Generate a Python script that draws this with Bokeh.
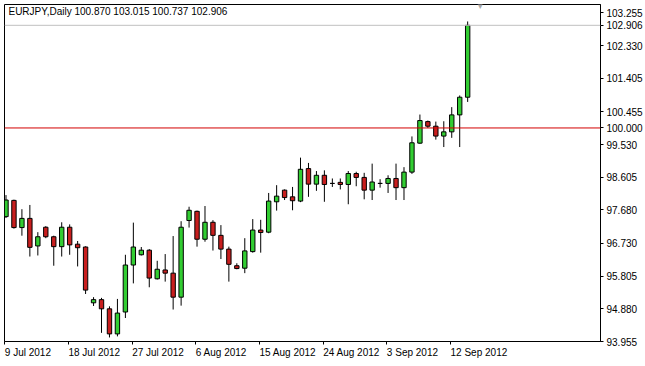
from bokeh.plotting import figure
from bokeh.models import (FixedTicker, LinearAxis, Range1d, Label, Span,
                          ColumnDataSource, PrintfTickFormatter)
from bokeh.embed import file_html
from bokeh.resources import INLINE

symbol_title = "EURJPY,Daily"

opens = [97.49, 97.95, 97.18, 97.44, 96.66, 97.19, 96.92, 96.64, 97.19, 96.71,
         96.63, 95.05, 95.14, 94.88, 94.17, 94.79, 96.12, 96.41, 96.54, 95.73,
         95.98, 95.89, 95.21, 97.38, 97.64, 96.85, 97.33, 96.96, 96.57, 96.10,
         96.03, 96.50, 97.11, 97.05, 97.91, 98.24, 98.05, 97.93, 98.85, 98.41,
         98.66, 98.43, 98.46, 98.40, 98.71, 98.60, 98.24, 98.43, 98.43, 98.57,
         98.31, 98.75, 99.57, 100.18, 100.05, 99.77, 99.89, 100.37, 100.870]
highs = [98.10, 97.97, 97.70, 97.82, 97.05, 97.22, 96.95, 97.33, 97.27, 96.80,
         96.65, 95.21, 95.19, 94.95, 95.16, 96.41, 97.32, 96.63, 96.57, 96.24,
         96.43, 96.94, 97.36, 97.77, 97.66, 97.79, 97.39, 97.25, 96.64, 96.17,
         96.88, 97.42, 97.40, 98.16, 98.38, 98.26, 98.33, 99.16, 99.01, 98.78,
         98.80, 98.57, 98.57, 98.78, 98.76, 98.73, 98.99, 98.55, 98.66, 98.99,
         98.89, 99.76, 100.38, 100.21, 100.18, 100.19, 100.59, 100.92, 103.015]
lows = [97.45, 97.15, 96.95, 96.36, 96.39, 96.88, 96.10, 96.36, 96.41, 96.08,
        95.30, 94.96, 94.20, 94.07, 94.10, 94.62, 95.60, 96.39, 95.49, 95.71,
        95.65, 94.86, 94.97, 97.18, 96.64, 96.78, 96.53, 96.29, 95.65, 96.00,
        95.89, 96.47, 96.47, 97.02, 97.66, 97.96, 97.67, 97.90, 98.05, 98.22,
        97.91, 98.33, 98.26, 97.84, 98.35, 97.98, 97.96, 98.31, 98.16, 97.96,
        97.96, 98.70, 99.55, 100.00, 99.67, 99.46, 99.72, 99.46, 100.737]
closes = [97.96, 97.18, 97.44, 96.62, 96.92, 96.92, 96.64, 97.19, 96.69, 96.61,
          95.41, 95.14, 94.88, 94.17, 94.76, 96.12, 96.63, 96.54, 95.75, 96.00,
          95.89, 95.21, 97.19, 97.67, 96.85, 97.33, 96.96, 96.57, 96.14, 96.02,
          96.52, 97.11, 97.04, 97.93, 98.07, 98.03, 97.94, 98.83, 98.41, 98.66,
          98.40, 98.43, 98.40, 98.71, 98.60, 98.24, 98.47, 98.43, 98.57, 98.31,
          98.75, 99.58, 100.21, 100.05, 99.77, 99.89, 100.37, 100.87, 102.906]

date_tick_index = [0, 8, 16, 24, 32, 40, 48, 56]
date_tick_labels = ["9 Jul 2012", "18 Jul 2012", "27 Jul 2012", "6 Aug 2012",
                    "15 Aug 2012", "24 Aug 2012", "3 Sep 2012", "12 Sep 2012"]
price_ticks = [93.955, 94.880, 95.805, 96.730, 97.680, 98.605,
               99.530, 100.455, 101.405, 102.330, 103.255]
level_price = 100.000

# ---- layout constants (pixels) ----
W, H = 645, 366
FRAME_W, FRAME_H = 599, 338
BAR_PX = 8
PX_PER_UNIT = 35.43
FONT_NAME = "Liberation Sans"
DATE_TICK_SHIFT = -0.15   # date mark sits just left of the bar centre

n = len(opens)
idx = list(range(n))
x_start = -0.1875
y_start = price_ticks[0]
x_range = Range1d(x_start, x_start + FRAME_W / BAR_PX)
y_range = Range1d(y_start, y_start + FRAME_H / PX_PER_UNIT)

up_color = "#32cd32"
down_color = "#c81e1e"
colors = [up_color if c >= o else down_color for o, c in zip(opens, closes)]
src = ColumnDataSource(dict(
    x=idx, o=opens, h=highs, l=lows, c=closes,
    top=[max(o, c) for o, c in zip(opens, closes)],
    bottom=[min(o, c) for o, c in zip(opens, closes)],
    color=colors,
))

p = figure(width=W, height=H, x_range=x_range, y_range=y_range,
           output_backend="svg", toolbar_location=None,
           x_axis_location=None, y_axis_location=None,
           min_border_left=4, min_border_top=4, min_border_right=42, min_border_bottom=24)
p.grid.visible = False
p.outline_line_color = "black"
p.outline_line_width = 1
p.background_fill_color = "white"
p.border_fill_color = "white"

# level lines
p.add_layout(Span(location=closes[-1], dimension="width", line_color="#c0c0c0", line_width=1))
p.add_layout(Span(location=level_price, dimension="width", line_color="#d40000", line_width=1))

# candles
p.segment(x0="x", y0="h", x1="x", y1="l", source=src, line_color="black", line_width=1)
p.vbar(x="x", top="top", bottom="bottom", width=0.55, source=src,
       fill_color="color", line_color="black", line_width=1)

# right price axis (scale ticks + current price + level marker)
y_ticks = list(price_ticks) + [closes[-1], level_price]
y_overrides = {closes[-1]: "%.3f" % closes[-1], level_price: "%.3f" % level_price}
yaxis = LinearAxis(ticker=FixedTicker(ticks=y_ticks),
                   formatter=PrintfTickFormatter(format="%.3f"),
                   major_label_overrides=y_overrides)
yaxis.axis_line_color = "black"
yaxis.major_tick_in = 0
yaxis.major_tick_out = 3
yaxis.minor_tick_line_color = None
yaxis.major_label_standoff = 3
yaxis.major_label_text_font = FONT_NAME
yaxis.major_label_text_font_size = "10px"
yaxis.major_label_text_color = "black"
p.add_layout(yaxis, "right")

# bottom time axis: labels left-aligned at their tick (tiny negative orientation)
date_ticks = [i + DATE_TICK_SHIFT for i in date_tick_index]
xaxis = LinearAxis(ticker=FixedTicker(ticks=date_ticks),
                   major_label_overrides={t: s for t, s in zip(date_ticks, date_tick_labels)})
xaxis.axis_line_color = "black"
xaxis.major_tick_in = 0
xaxis.major_tick_out = 3
xaxis.minor_tick_line_color = None
xaxis.major_label_orientation = -1e-6
xaxis.major_label_standoff = 8
xaxis.major_label_text_font = FONT_NAME
xaxis.major_label_text_font_size = "10px"
xaxis.major_label_text_color = "black"
p.add_layout(xaxis, "below")

# header
header = "%s  %.3f %.3f %.3f %.3f" % (symbol_title, opens[-1], highs[-1], lows[-1], closes[-1])
p.add_layout(Label(x=x_start + 4 / BAR_PX, y=y_range.end - 2 / PX_PER_UNIT, text=header,
                   text_font=FONT_NAME, text_font_size="10px", text_color="black",
                   text_baseline="top", text_align="left"))

# chart shift marker
p.add_layout(Label(x=x_start + (482 - 4) / BAR_PX, y=y_range.end, text="\u25bc",
                   text_font="DejaVu Sans", text_font_size="9px", text_color="#a8a8a8",
                   text_baseline="middle", text_align="center"))

open("out.html", "w").write(file_html(p, INLINE))
